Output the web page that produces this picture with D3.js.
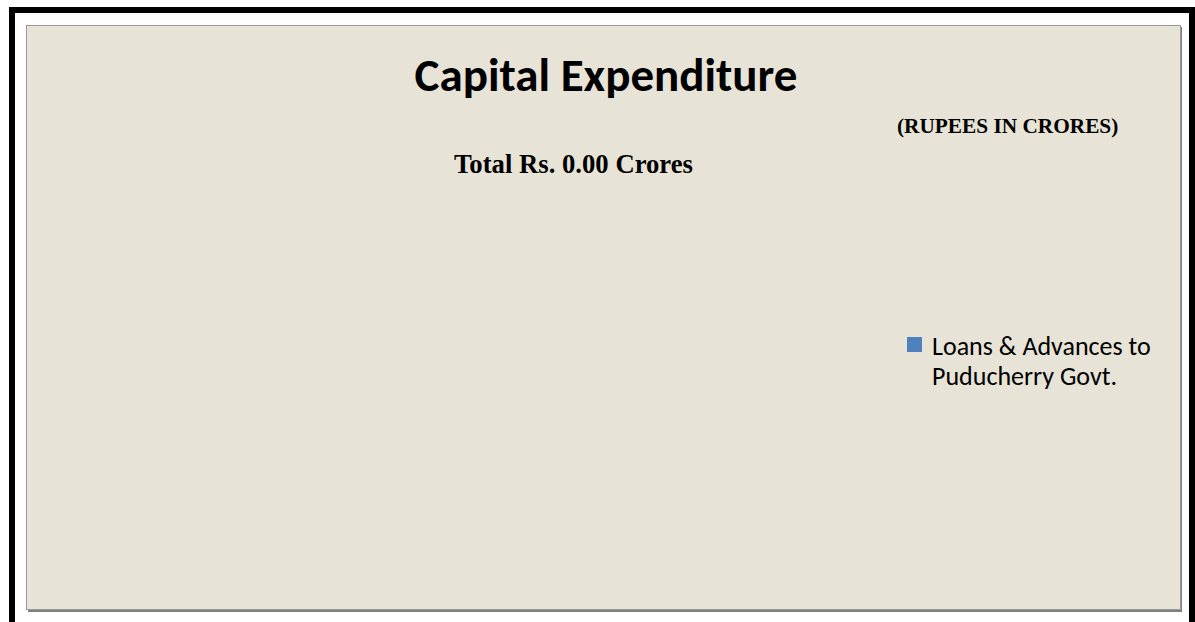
<!DOCTYPE html>
<html lang="en">
<head>
  <meta charset="UTF-8">
  <title>Capital Expenditure</title>
  <style>
    body { margin: 0; background: #fff; }
    .title { font-family: Carlito, Lato, "Open Sans", sans-serif; font-weight: bold; }
    .serif { font-family: "Liberation Serif", "Times New Roman", serif; font-weight: bold; }
    .legend text { font-family: Carlito, Lato, "Open Sans", sans-serif; }
  </style>
</head>
<body>
  <svg id="chart"></svg>

  <script src="https://d3js.org/d3.v7.min.js"></script>
  <script>
    const categories = ["Loans & Advances to Puducherry Govt."];
    const legendLines = [["Loans & Advances to", "Puducherry Govt."]];
    const values = [0.00];
    const colors = ["#4F81BD"];

    const total = d3.sum(values);

    const width = 1195, height = 622;

    const svg = d3.select("#chart")
      .attr("width", width)
      .attr("height", height);

    // outer black frame (runs off the bottom edge)
    svg.append("rect")
      .attr("x", 12).attr("y", 10)
      .attr("width", 1180).attr("height", 660)
      .attr("fill", "none")
      .attr("stroke", "#000")
      .attr("stroke-width", 6);

    // chart area
    svg.append("rect")
      .attr("x", 28).attr("y", 27)
      .attr("width", 1154).attr("height", 585)
      .attr("fill", "#7f7f7f");
    svg.append("rect")
      .attr("x", 26.5).attr("y", 25.5)
      .attr("width", 1154).attr("height", 584)
      .attr("fill", "#E7E3D6")
      .attr("stroke", "#999")
      .attr("stroke-width", 1);

    svg.append("text")
      .attr("class", "title")
      .attr("x", 606).attr("y", 91)
      .attr("text-anchor", "middle")
      .attr("font-size", 47)
      .text("Capital Expenditure");

    svg.append("text")
      .attr("class", "serif")
      .attr("x", 897).attr("y", 133)
      .attr("font-size", 21.3)
      .text("(RUPEES IN CRORES)");

    svg.append("text")
      .attr("class", "serif")
      .attr("x", 454).attr("y", 173)
      .attr("font-size", 26.7)
      .text("Total Rs. " + d3.format(".2f")(total) + " Crores");

    // pie (all values zero, so no slice shows)
    const pie = d3.pie().sort(null);
    const arc = d3.arc().innerRadius(0).outerRadius(170);
    svg.append("g")
      .attr("transform", "translate(470,390)")
      .selectAll("path")
      .data(pie(values))
      .join("path")
      .attr("d", d => d.endAngle > d.startAngle ? arc(d) : null)
      .attr("fill", (d, i) => colors[i])
      .attr("stroke", "#fff");

    const legend = svg.append("g")
      .attr("class", "legend")
      .attr("transform", "translate(907,337)");

    const item = legend.selectAll("g")
      .data(categories)
      .join("g");

    item.append("rect")
      .attr("width", 15).attr("height", 15)
      .attr("fill", (d, i) => colors[i]);

    item.append("text")
      .attr("x", 25).attr("y", 18)
      .attr("font-size", 26)
      .selectAll("tspan")
      .data((d, i) => legendLines[i])
      .join("tspan")
      .attr("x", 25)
      .attr("dy", (d, j) => j === 0 ? 0 : 30)
      .text(d => d);
  </script>
</body>
</html>
